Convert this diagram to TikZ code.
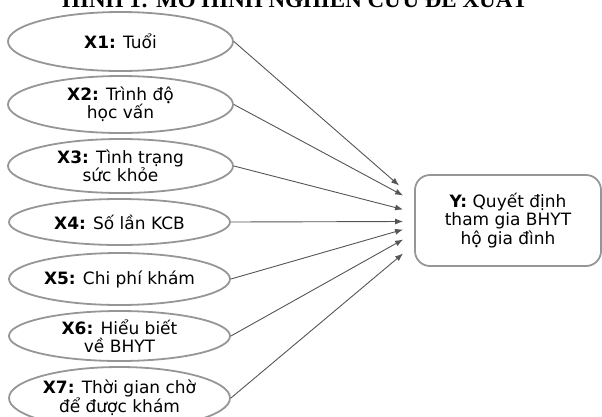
\documentclass[tikz,border=0pt]{standalone}
\usepackage{fontspec}
\setmainfont{DejaVu Sans}
\newfontfamily\titlefont{Liberation Serif}
\usetikzlibrary{shapes.geometric,arrows.meta}
\definecolor{rimgray}{RGB}{150,150,150}
\definecolor{arrowgray}{RGB}{85,85,85}
\begin{document}
\begin{tikzpicture}[x=1pt,y=-1pt,
  factor/.style={ellipse, draw=rimgray, line width=1.8pt, inner sep=0pt,
    align=center, font=\fontsize{17}{18}\selectfont},
  outcome/.style={rectangle, rounded corners=15pt, draw=rimgray, line width=1.8pt,
    inner sep=0pt, align=center, font=\fontsize{17}{18.5}\selectfont},
  link/.style={draw=arrowgray, line width=0.9pt,
    -{Latex[length=8pt,width=6pt]}}]
\useasboundingbox (0,0) rectangle (602,416);

% heading, its upper half falls outside the page
\node[anchor=base, inner sep=0pt, font=\titlefont\bfseries\fontsize{23}{26}\selectfont]
  (title) at (295,7) {HÌNH 1: MÔ HÌNH NGHIÊN CỨU ĐỀ XUẤT};

% explanatory factors
\node[factor, minimum width=225pt, minimum height=59pt] (x1) at (120.5,41.5)
  {\textbf{X1:} Tuổi};
\node[factor, minimum width=225pt, minimum height=57pt] (x2) at (120.5,104.5)
  {\textbf{X2:} Trình độ\\học vấn};
\node[factor, minimum width=225pt, minimum height=54pt] (x3) at (120.5,166)
  {\textbf{X3:} Tình trạng\\sức khỏe};
\node[factor, minimum width=221pt, minimum height=46pt] (x4) at (119.5,222)
  {\textbf{X4:} Số lần KCB};
\node[factor, minimum width=221pt, minimum height=52pt] (x5) at (119.5,279)
  {\textbf{X5:} Chi phí khám};
\node[factor, minimum width=221pt, minimum height=50pt] (x6) at (119.5,336)
  {\textbf{X6:} Hiểu biết\\về BHYT};
\node[factor, minimum width=221pt, minimum height=62pt] (x7) at (119.5,398)
  {\textbf{X7:} Thời gian chờ\\để được khám};

% dependent variable
\node[outcome, minimum width=186pt, minimum height=91pt] (y) at (508,220.5)
  {\textbf{Y:} Quyết định\\tham gia BHYT\\hộ gia đình};

% arrow ends just left of the box
\coordinate (e1) at ([xshift=-15pt,yshift=35pt]y.west);
\coordinate (e2) at ([xshift=-11pt,yshift=25pt]y.west);
\coordinate (e3) at ([xshift=-11pt,yshift=11pt]y.west);
\coordinate (e4) at ([xshift=-11pt,yshift=-1pt]y.west);
\coordinate (e5) at ([xshift=-11pt,yshift=-9pt]y.west);
\coordinate (e6) at ([xshift=-11pt,yshift=-19pt]y.west);
\coordinate (e7) at ([xshift=-11pt,yshift=-33pt]y.west);

\foreach \i in {1,...,7}
  \draw[link] (x\i.east) -- (e\i);
\end{tikzpicture}
\end{document}
